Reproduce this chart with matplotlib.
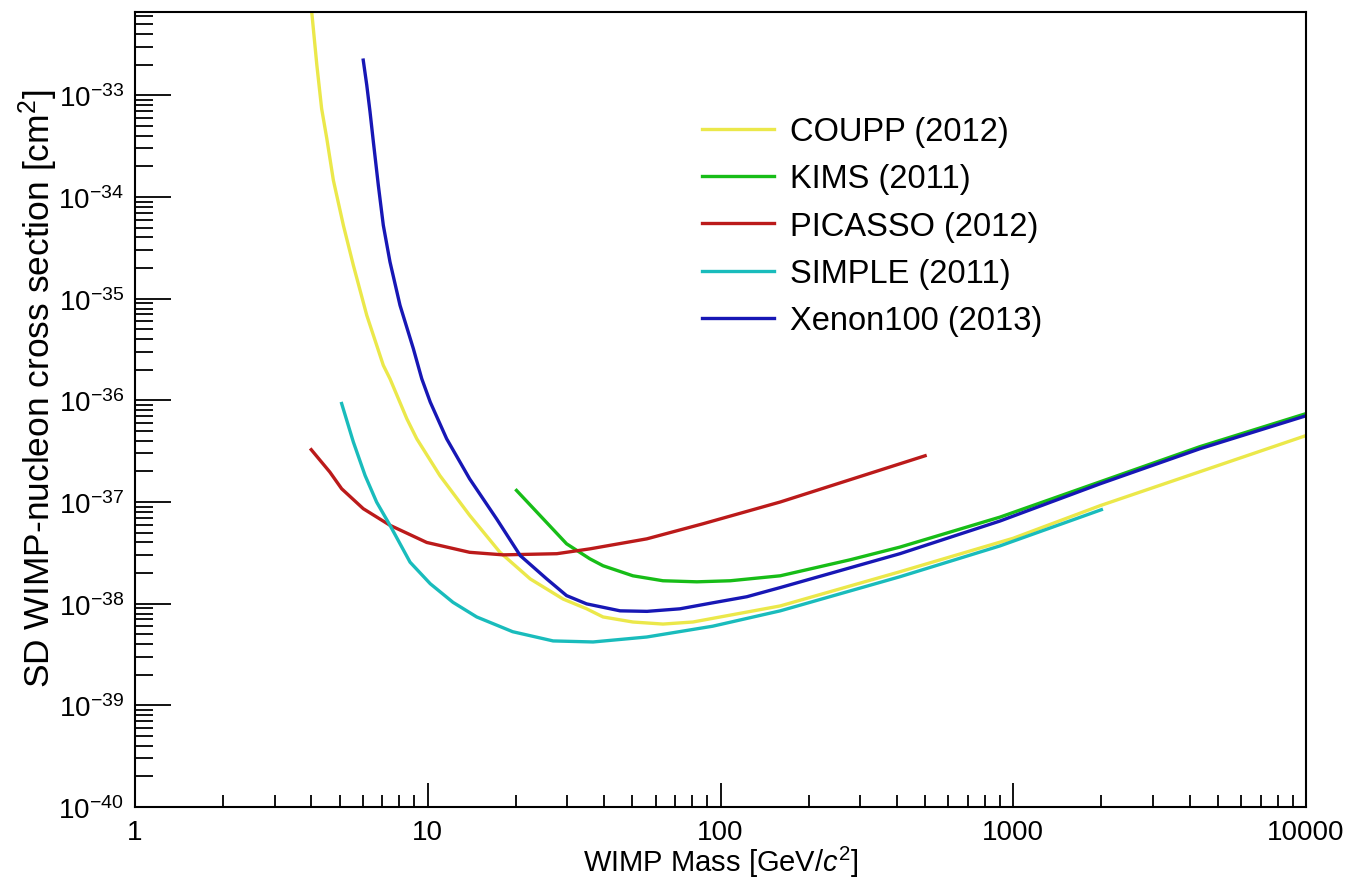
import numpy as np
import matplotlib
matplotlib.use("Agg")
import matplotlib.pyplot as plt
from matplotlib.ticker import LogLocator, FixedLocator, NullFormatter

# Data (WIMP mass in GeV/c^2, SD cross section in cm^2)
couppMass = [4.015, 4.18, 4.34, 4.52, 4.76, 5.15, 5.57, 6.19, 7.05, 7.43, 8.48, 9.17, 11.0, 13.9, 17.65,
             22.4, 29.0, 34.9, 39.7, 50.2, 63.6, 80.5, 105, 160, 410, 1000, 1980, 10000]
couppSigma = [6.6e-33, 1.98e-33, 7.4e-34, 3.76e-34, 1.46e-34, 5.26e-35, 2.13e-35, 6.86e-36, 2.21e-36, 1.63e-36,
              6.6e-37, 4.19e-37, 1.82e-37, 7.4e-38, 3.2e-38, 1.75e-38, 1.11e-38, 8.9e-39, 7.4e-39, 6.6e-39,
              6.3e-39, 6.6e-39, 7.6e-39, 9.5e-39, 2.06e-38, 4.4e-38, 9.2e-38, 4.5e-37]

kimsMass = [20.1, 29.8, 35.8, 39.7, 50.2, 63.6, 83.1, 108, 160, 277, 410, 901, 1980, 4340, 10000]
kimsSigma = [1.3e-37, 3.88e-38, 2.76e-38, 2.36e-38, 1.88e-38, 1.68e-38, 1.64e-38, 1.68e-38, 1.88e-38, 2.7e-38,
             3.6e-38, 7.1e-38, 1.58e-37, 3.5e-37, 7.4e-37]

picassoMass = [4.0, 4.63, 5.08, 6.02, 7.43, 9.92, 13.9, 18.1, 27.6, 35.8, 56, 87, 160, 500]
picassoSigma = [3.27e-37, 1.97e-37, 1.35e-37, 8.6e-38, 5.9e-38, 4.0e-38, 3.2e-38, 3.02e-38, 3.1e-38, 3.46e-38,
                4.34e-38, 6.1e-38, 1.0e-37, 2.85e-37]

simpleMass = [5.08, 5.57, 6.11, 6.69, 7.43, 8.70, 10.2, 12.2, 14.7, 19.5, 26.8, 36.7, 56, 94, 160, 410, 901, 2000]
simpleSigma = [9.3e-37, 3.89e-37, 1.82e-37, 9.97e-38, 5.9e-38, 2.56e-38, 1.57e-38, 1.03e-38, 7.4e-39, 5.3e-39,
               4.3e-39, 4.2e-39, 4.7e-39, 6.0e-39, 8.5e-39, 1.84e-38, 3.7e-38, 8.4e-38]

xenonMass = [6.02, 6.19, 6.35, 6.52, 6.78, 7.05, 7.43, 8.04, 8.93, 9.54, 10.2, 11.6, 13.9, 17.2, 20.7, 25.5,
             29.8, 34.9, 45.4, 56.1, 72.7, 94.2, 123, 160, 410, 901, 1980, 4340, 10000]
xenonSigma = [2.22e-33, 1.26e-33, 6.9e-34, 3.48e-34, 1.30e-34, 5.27e-35, 2.30e-35, 8.6e-36, 3.22e-36, 1.63e-36,
              9.6e-37, 4.19e-37, 1.69e-37, 6.8e-38, 2.97e-38, 1.75e-38, 1.2e-38, 9.95e-39, 8.5e-39, 8.4e-39,
              8.9e-39, 1.02e-38, 1.17e-38, 1.44e-38, 3.1e-38, 6.5e-38, 1.51e-37, 3.34e-37, 7.05e-37]

labels = ["COUPP (2012)", "KIMS (2011)", "PICASSO (2012)", "SIMPLE (2011)", "Xenon100 (2013)"]
colors = ["#ebe84a", "#17bd17", "#bb1a1a", "#19bcbc", "#1717b5"]

plt.rcParams['font.family'] = ['Liberation Sans', 'DejaVu Sans']
plt.rcParams['mathtext.fontset'] = 'custom'
plt.rcParams['mathtext.rm'] = 'Liberation Sans'
plt.rcParams['mathtext.it'] = 'Liberation Sans:italic'
plt.rcParams['mathtext.bf'] = 'Liberation Sans:bold'

fig = plt.figure(figsize=(13.56, 8.78), dpi=100)
ax = fig.add_axes([135 / 1356, 70 / 878, 1171 / 1356, 795 / 878])

series = [(couppMass, couppSigma), (kimsMass, kimsSigma), (picassoMass, picassoSigma),
          (simpleMass, simpleSigma), (xenonMass, xenonSigma)]
for (m, s), lab, col in zip(series, labels, colors):
    ax.plot(m, s, color=col, lw=2.4, label=lab, solid_joinstyle='round')

ax.set_xscale('log')
ax.set_yscale('log')
ax.set_xlim(1, 10000)
ax.set_ylim(1e-40, 6.6e-33)

ax.xaxis.set_major_locator(FixedLocator([1, 10, 100, 1000, 10000]))
ax.set_xticklabels(["1", "10", "100", "1000", "10000"])
ax.xaxis.set_minor_locator(LogLocator(base=10, subs=np.arange(2, 10)))
ax.xaxis.set_minor_formatter(NullFormatter())

yticks = [10.0 ** e for e in range(-40, -32)]
ax.yaxis.set_major_locator(FixedLocator(yticks))
ax.set_yticklabels([r"$10^{%d}$" % e for e in range(-40, -32)])
ax.yaxis.set_minor_locator(LogLocator(base=10, subs=np.arange(2, 10), numticks=50))
ax.yaxis.set_minor_formatter(NullFormatter())

ax.tick_params(axis='both', which='both', direction='in', top=False, right=False,
               labelsize=20, width=1.3, color='black')
ax.tick_params(axis='x', which='major', length=17, pad=9)
ax.tick_params(axis='x', which='minor', length=8.6)
ax.tick_params(axis='y', which='major', length=26, pad=8)
ax.tick_params(axis='y', which='minor', length=13)
for sp in ax.spines.values():
    sp.set_linewidth(1.5)

ax.set_xlabel(r"WIMP Mass [GeV/$c^{2}$]", fontsize=21)
ax.set_ylabel(r"SD WIMP-nucleon cross section [cm$^{2}$]", fontsize=25.5)
ax.xaxis.set_label_coords(0.5, -0.046)
ax.yaxis.set_label_coords(-0.064, 0.527)

ax.legend(loc='upper left', bbox_to_anchor=(0.484, 0.869), frameon=False, fontsize=23.5,
          handlelength=2.2, handletextpad=0.5, labelspacing=0.5, borderpad=0, borderaxespad=0)

fig.savefig("out.png", dpi=100)
